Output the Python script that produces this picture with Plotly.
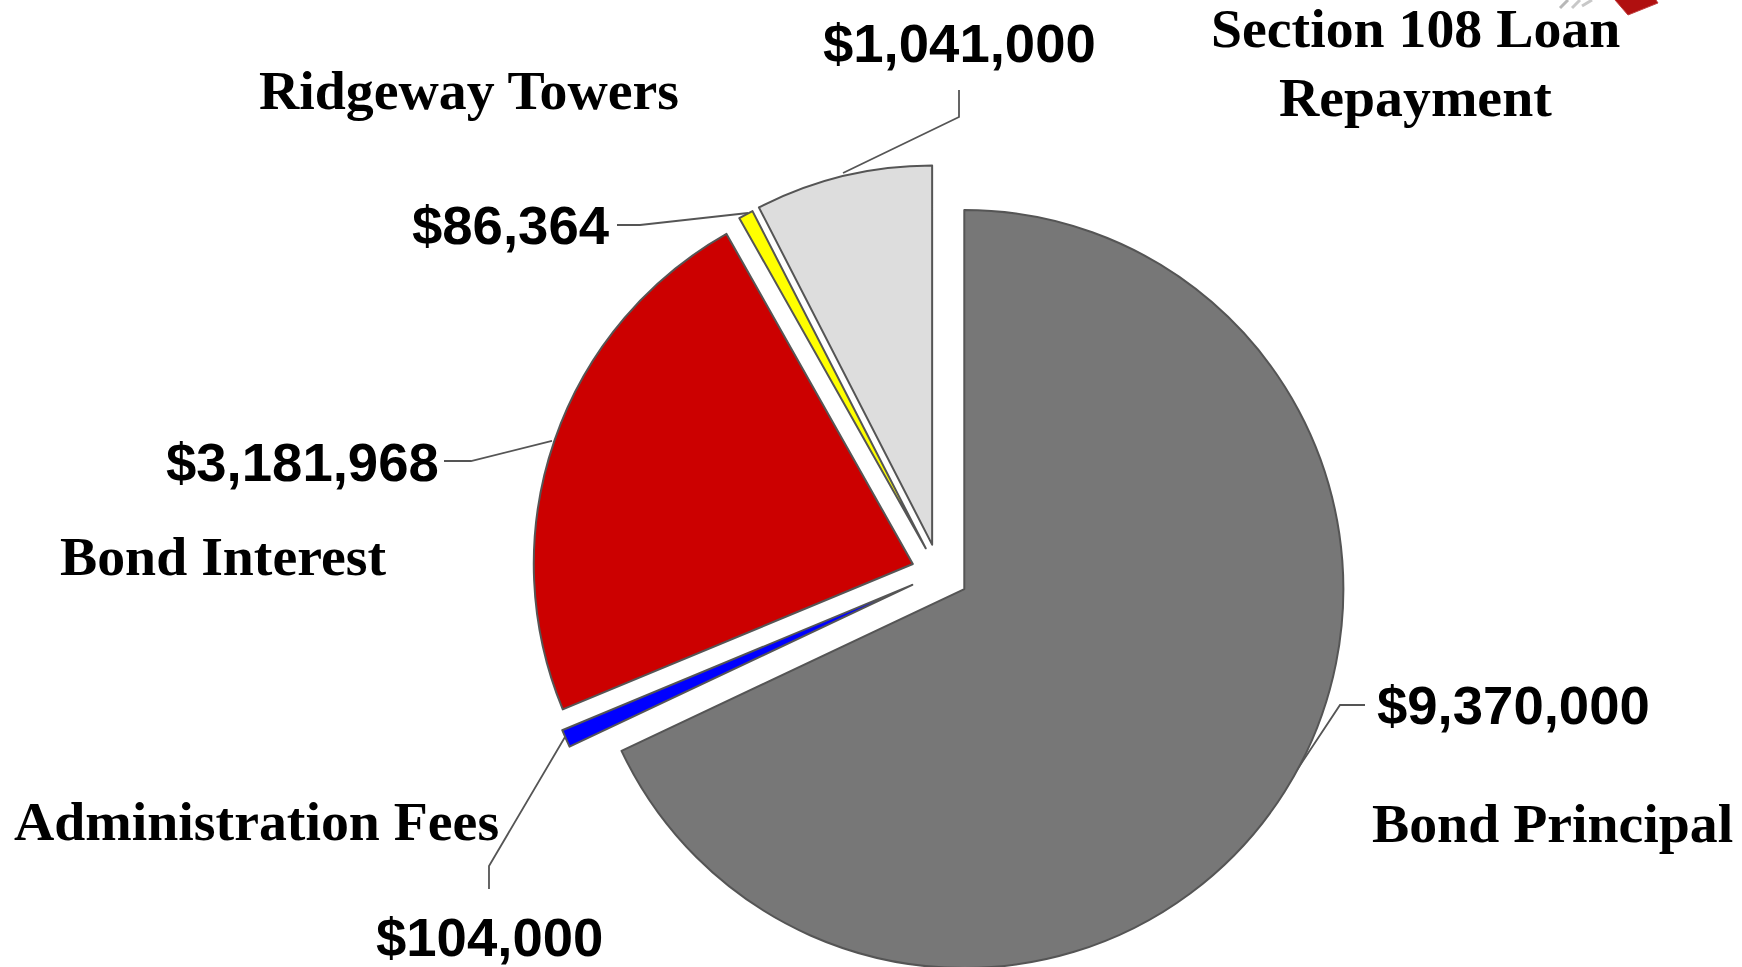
import plotly.graph_objects as go

categories = ["Bond Principal", "Administration Fees", "Bond Interest", "Ridgeway Towers", "Section 108 Loan Repayment"]
values = [9370000, 104000, 3181968, 86364, 1041000]
colors = ["#777777", "#0000FF", "#CC0000", "#FFFF00", "#DDDDDD"]
value_labels = ["$9,370,000", "$104,000", "$3,181,968", "$86,364", "$1,041,000"]
slice_pull = [0.079, 0.077, 0.073, 0.074, 0.077]

W, H = 1742, 990
BORDER = "#555555"
CX, CY, DR = 939, 573, 409


def px(x):
    return x / W


def py(y):
    return 1 - y / H


def note(text, x, y, anchor, family, size):
    return dict(text=text, x=px(x), y=py(y), xref="paper", yref="paper", xanchor=anchor, yanchor="middle",
                showarrow=False, align="center",
                font=dict(family=family, size=size, color="#000000"))


def path(points, **kw):
    d = "M " + " L ".join(f"{px(a):.5f},{py(b):.5f}" for a, b in points)
    return dict(type="path", xref="paper", yref="paper", path=d, layer="below", **kw)


def leader(points):
    return path(points, line=dict(color=BORDER, width=1.8))


SANS = "Liberation Sans"
SERIF = "Liberation Serif"
SANS_SIZE = 54.5
SERIF_SIZE = 55.8
annotations = [
    note("<b>" + value_labels[0] + "</b>", 1375, 705, "left", SANS, SANS_SIZE),
    note("<b>" + value_labels[1] + "</b>", 490, 937, "center", SANS, SANS_SIZE),
    note("<b>" + value_labels[2] + "</b>", 441, 462, "right", SANS, SANS_SIZE),
    note("<b>" + value_labels[3] + "</b>", 612, 225, "right", SANS, SANS_SIZE),
    note("<b>" + value_labels[4] + "</b>", 959, 44, "center", SANS, SANS_SIZE),
    note("<b>Bond Principal</b>", 1552, 823, "center", SERIF, SERIF_SIZE),
    note("<b>Administration Fees</b>", 256, 821, "center", SERIF, SERIF_SIZE),
    note("<b>Bond Interest</b>", 58, 556, "left", SERIF, SERIF_SIZE),
    note("<b>Ridgeway Towers</b>", 469, 90, "center", SERIF, SERIF_SIZE),
    note("<b>Section 108 Loan</b>", 1415, 28, "center", SERIF, SERIF_SIZE),
    note("<b>Repayment</b>", 1415, 97, "center", SERIF, SERIF_SIZE),
]

shapes = [
    leader([(1365, 705), (1340, 705), (1283, 791)]),
    leader([(959, 90), (959, 117), (843, 173)]),
    leader([(617, 225), (640, 225), (748, 213)]),
    leader([(444, 461), (471, 461), (552, 441)]),
    leader([(565, 737), (489, 866), (489, 889)]),
    # corner of the clip-art picture at the top right
    path([(1615, 0), (1628, 15), (1658, 3), (1656, 0)], fillcolor="#B01010", line=dict(color="#C04040", width=1)),
    path([(1560, 8), (1568, 0)], line=dict(color="#B8B8B8", width=3)),
    path([(1572, 8), (1580, 0)], line=dict(color="#C8C8C8", width=3)),
    path([(1582, 6), (1592, 0)], line=dict(color="#C8C8C8", width=3)),
]

fig = go.Figure(go.Pie(
    labels=categories,
    values=values,
    sort=False,
    direction="clockwise",
    rotation=0,
    pull=slice_pull,
    textinfo="none",
    hoverinfo="label+value",
    showlegend=False,
    marker=dict(colors=colors, line=dict(color=BORDER, width=2)),
    domain=dict(x=[px(CX - DR), px(CX + DR)], y=[py(CY + DR), py(CY - DR)]),
))

fig.update_layout(
    width=W, height=H, autosize=False,
    margin=dict(l=0, r=0, t=0, b=0),
    paper_bgcolor="#FFFFFF",
    annotations=annotations,
    shapes=shapes,
)

fig.write_html("out.html", config=dict(displayModeBar=False),
               post_script="document.body.style.margin='0';document.documentElement.style.overflow='hidden';document.body.style.overflow='hidden';")
